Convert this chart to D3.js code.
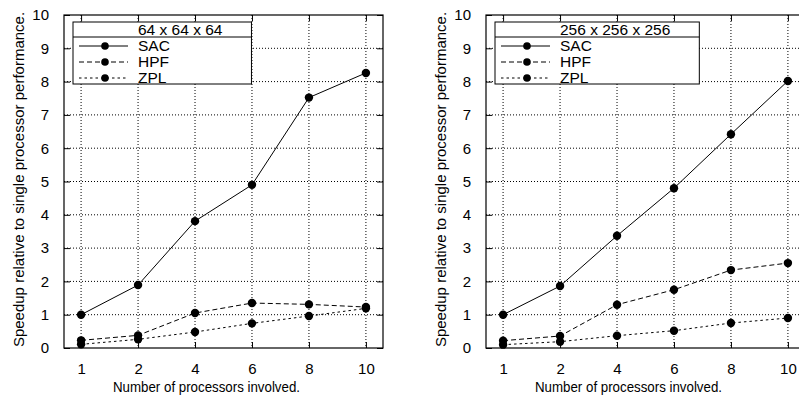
<!DOCTYPE html>
<html><head><meta charset="utf-8">
<script src="https://cdn.jsdelivr.net/npm/d3@7"></script>
<style>
body{margin:0;background:#fff;}
svg text{font-family:"Liberation Sans",Arial,Helvetica,sans-serif;fill:#000;}
</style></head>
<body>
<svg id="c" width="799" height="398"></svg>
<script>
const processors = ["1","2","4","6","8","10"];
const yTicks = [0,1,2,3,4,5,6,7,8,9,10];
const seriesNames = ["SAC","HPF","ZPL"];
const titleA = "64 x 64 x 64";
const sacA = [1.0, 1.89, 3.81, 4.9, 7.52, 8.26];
const hpfA = [0.23, 0.38, 1.05, 1.35, 1.31, 1.23];
const zplA = [0.11, 0.26, 0.48, 0.74, 0.96, 1.19];
const titleB = "256 x 256 x 256";
const sacB = [1.0, 1.86, 3.37, 4.8, 6.42, 8.02];
const hpfB = [0.22, 0.36, 1.3, 1.75, 2.34, 2.55];
const zplB = [0.1, 0.19, 0.37, 0.52, 0.75, 0.9];
const xTitle = "Number of processors involved.";
const yTitle = "Speedup relative to single processor performance.";

const svg = d3.select("#c");
const dashes = ["none", "5,3", "2.5,3"];

function panel(left, title, series) {
  const top = 15, bottom = 348, width = 319;
  const g = svg.append("g");
  const x = d3.scalePoint().domain(processors).range([left, left + width]).padding(0.3);
  const y = d3.scaleLinear().domain([0, 10]).range([bottom, top]);

  // grid
  g.append("g").selectAll("line").data(yTicks.filter(v => v > 0 && v < 10)).join("line")
    .attr("x1", left).attr("x2", left + width).attr("y1", d => y(d)).attr("y2", d => y(d))
    .attr("stroke", "#000").attr("stroke-width", 1).attr("stroke-dasharray", "1,2");
  g.append("g").selectAll("line").data(processors).join("line")
    .attr("x1", d => x(d)).attr("x2", d => x(d)).attr("y1", top).attr("y2", bottom)
    .attr("stroke", "#000").attr("stroke-width", 1).attr("stroke-dasharray", "1,2");

  // axes via d3 (inner ticks)
  const ax = d3.axisLeft(y).tickValues(yTicks).tickSize(-6).tickPadding(15).tickFormat(d3.format("d"));
  const gl = g.append("g").attr("transform", `translate(${left},0)`).call(ax);
  gl.select(".domain").remove();
  gl.selectAll("text").style("font-size", "15px");
  const ar = d3.axisRight(y).tickValues(yTicks).tickSize(-6).tickFormat("");
  const gr = g.append("g").attr("transform", `translate(${left + width},0)`).call(ar);
  gr.select(".domain").remove();
  const ab = d3.axisBottom(x).tickSize(-6).tickPadding(15);
  const gb = g.append("g").attr("transform", `translate(0,${bottom})`).call(ab);
  gb.select(".domain").remove();
  gb.selectAll("text").style("font-size", "15px");
  const at = d3.axisTop(x).tickSize(-6).tickFormat("");
  const gt = g.append("g").attr("transform", `translate(0,${top})`).call(at);
  gt.select(".domain").remove();
  g.selectAll(".tick line").attr("stroke", "#000").attr("stroke-width", 1);

  // frame
  g.append("rect").attr("x", left).attr("y", top).attr("width", width).attr("height", bottom - top)
    .attr("fill", "none").attr("stroke", "#000").attr("stroke-width", 1.2);

  // legend
  const lg = g.append("g");
  const lx = left + 9;
  const textX = left + 74;
  const tt = lg.append("text").attr("x", textX).attr("y", 29.5).attr("dy", "0.35em")
    .style("font-size", "15.5px").text(title);
  const tw = tt.node().getComputedTextLength();
  const boxW = textX + tw + 29 - lx;
  lg.insert("rect", "text").attr("x", lx).attr("y", 22).attr("width", boxW).attr("height", 62)
    .attr("fill", "#fff").attr("stroke", "#000").attr("stroke-width", 1);
  lg.append("line").attr("x1", lx).attr("x2", lx + boxW).attr("y1", 37).attr("y2", 37)
    .attr("stroke", "#000").attr("stroke-width", 1);
  seriesNames.forEach((name, i) => {
    const ry = 46 + i * 16;
    lg.append("line").attr("x1", left + 15).attr("x2", left + 64).attr("y1", ry).attr("y2", ry)
      .attr("stroke", "#000").attr("stroke-width", 1).attr("stroke-dasharray", dashes[i]);
    lg.append("circle").attr("cx", left + 41).attr("cy", ry).attr("r", 3.8).attr("fill", "#000");
    lg.append("text").attr("x", textX).attr("y", ry).attr("dy", "0.35em")
      .style("font-size", "15.5px").text(name);
  });

  // data
  const line = d3.line().x((d, i) => x(processors[i])).y(d => y(d));
  series.forEach((vals, i) => {
    g.append("path").attr("d", line(vals)).attr("fill", "none").attr("stroke", "#000")
      .attr("stroke-width", 1).attr("stroke-dasharray", dashes[i]);
    g.append("g").selectAll("circle").data(vals).join("circle")
      .attr("cx", (d, j) => x(processors[j])).attr("cy", d => y(d)).attr("r", 4.2).attr("fill", "#000");
  });

  // titles
  g.append("text").attr("x", left + 49).attr("y", 387).attr("dy", "0.35em")
    .attr("textLength", 187).attr("lengthAdjust", "spacingAndGlyphs")
    .style("font-size", "15px").text(xTitle);
  g.append("text").attr("transform", `translate(${left - 45},${(top + bottom) / 2 - 2}) rotate(-90)`)
    .attr("dy", "0.35em").attr("text-anchor", "middle").style("font-size", "15px").text(yTitle);
}

panel(64, titleA, [sacA, hpfA, zplA]);
panel(486, titleB, [sacB, hpfB, zplB]);
</script>
</body></html>
